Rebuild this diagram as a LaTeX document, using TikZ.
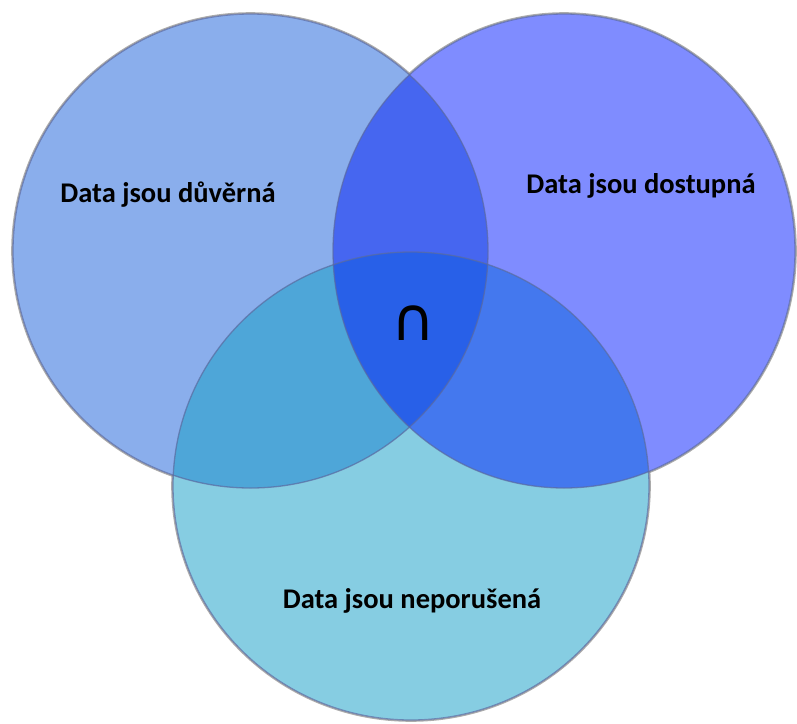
\documentclass[tikz,border=0pt]{standalone}
\usepackage{fontspec}
\setmainfont{Carlito}
\newfontfamily\symfont{DejaVu Sans}
% region colours of the three-set diagram
\definecolor{cL}{RGB}{138,174,236}
\definecolor{cR}{RGB}{127,140,255}
\definecolor{cB}{RGB}{134,205,226}
\definecolor{cLR}{RGB}{70,102,240}
\definecolor{cLB}{RGB}{78,166,216}
\definecolor{cRB}{RGB}{68,120,238}
\definecolor{cLRB}{RGB}{40,96,232}
\definecolor{rim}{RGB}{90,105,160}
\definecolor{halo}{RGB}{150,150,150}
\tikzset{
  rimline/.style={draw=rim, draw opacity=0.7, line width=1.3pt},
  haloline/.style={draw=halo, draw opacity=0.8, line width=1.6pt},
  setlabel/.style={font=\bfseries\fontsize{28.5}{34}\selectfont, anchor=base, inner sep=0pt}
}
\begin{document}
\begin{tikzpicture}[x=1pt,y=-1pt]
\useasboundingbox (0,0) rectangle (797,723);
\clip (0,0) rectangle (797,723);
\coordinate (L) at (250.5,251);
\coordinate (R) at (564,251);
\coordinate (B) at (411,486);
\def\shapeL{(L) ellipse [x radius=237.5pt, y radius=237pt]}
\def\shapeR{(R) ellipse [x radius=231pt, y radius=237pt]}
\def\shapeB{(B) ellipse [x radius=238pt, y radius=234pt]}
% soft grey rims just outside the discs
\draw[haloline] (L) ellipse [x radius=238.5pt, y radius=238pt];
\draw[haloline] (R) ellipse [x radius=232pt, y radius=238pt];
\draw[haloline] (B) ellipse [x radius=239pt, y radius=235pt];
% base discs
\fill[cL] \shapeL;
\fill[cR] \shapeR;
\fill[cB] \shapeB;
% pairwise overlaps
\begin{scope}\clip \shapeL; \fill[cLR] \shapeR;\end{scope}
\begin{scope}\clip \shapeL; \fill[cLB] \shapeB;\end{scope}
\begin{scope}\clip \shapeR; \fill[cRB] \shapeB;\end{scope}
% common part of all three
\begin{scope}\clip \shapeL; \clip \shapeR; \fill[cLRB] \shapeB;\end{scope}
% outlines
\draw[rimline] \shapeL;
\draw[rimline] \shapeR;
\draw[rimline] \shapeB;
% labels
\node[setlabel] (tL) at (168,202) {Data jsou důvěrná};
\node[setlabel] (tR) at (641,193) {Data jsou dostupná};
\node[setlabel] (tB) at (412,608) {Data jsou neporušená};
\node[anchor=base, inner sep=0pt, font=\symfont\fontsize{60}{70}\selectfont] (cap) at (413,340) {∩};
\end{tikzpicture}
\end{document}
